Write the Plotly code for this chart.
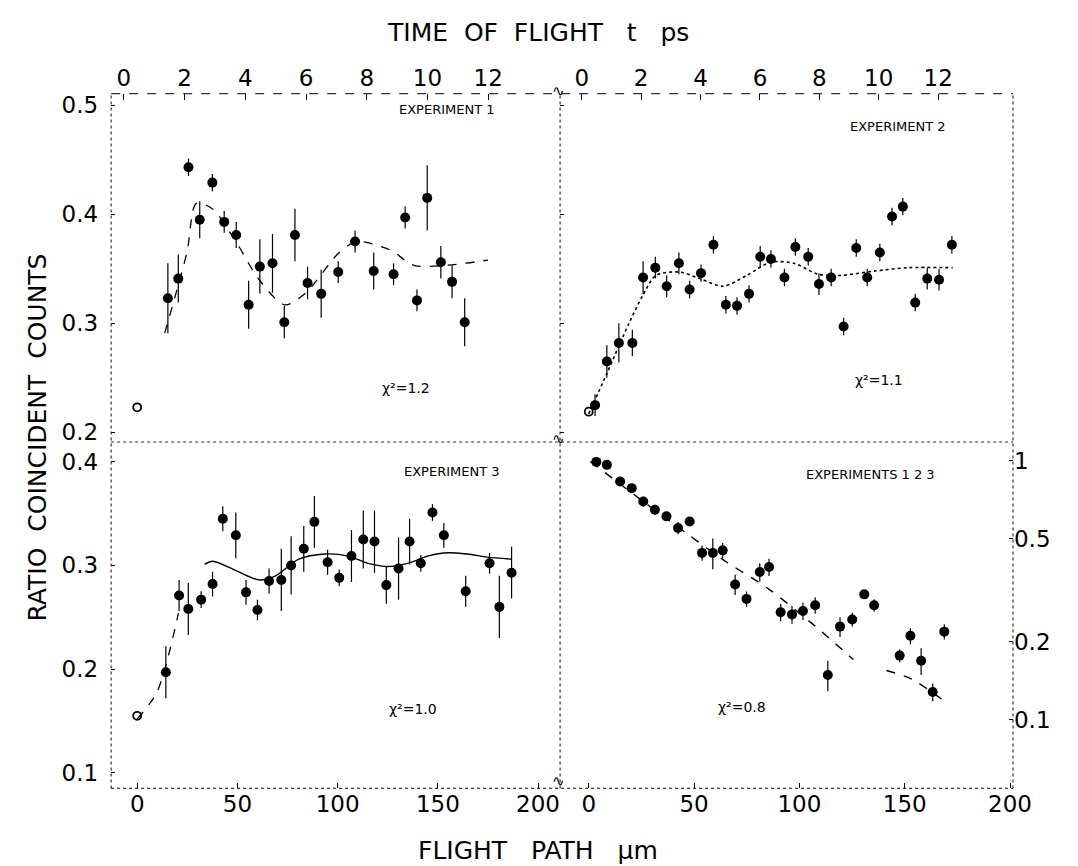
import plotly.graph_objects as go

# ---------------- data ----------------
# Experiment 1 (top-left): flight path [um] vs ratio
exp1_path = [15.3, 20.5, 25.6, 31.2, 37.5, 43.4, 49.4, 55.6, 61.2, 67.5, 73.4, 78.7, 85.0, 91.8,
             100.3, 108.7, 118.0, 127.9, 133.7, 139.6, 144.7, 151.5, 157.1, 163.4]
exp1_ratio = [0.323, 0.341, 0.443, 0.395, 0.429, 0.393, 0.381, 0.317, 0.352, 0.355, 0.301, 0.381,
              0.337, 0.327, 0.347, 0.375, 0.348, 0.345, 0.397, 0.321, 0.415, 0.356, 0.338, 0.301]
exp1_err = [0.032, 0.022, 0.008, 0.017, 0.008, 0.010, 0.012, 0.022, 0.025, 0.027, 0.015, 0.024,
            0.015, 0.022, 0.010, 0.010, 0.017, 0.010, 0.010, 0.010, 0.030, 0.015, 0.015, 0.022]
exp1_open_path = [0]
exp1_open_ratio = [0.223]
exp1_fit_path = [13.7, 24.8, 29.5, 37.5, 50.2, 60.4, 73.6, 84.2, 100.3, 109.6, 126.5, 138.4, 175]
exp1_fit_ratio = [0.291, 0.365, 0.410, 0.405, 0.372, 0.341, 0.317, 0.328, 0.364, 0.375, 0.367, 0.353, 0.358]

# Experiment 2 (top-right)
exp2_path = [3.0, 8.6, 14.3, 20.7, 25.8, 31.6, 37.0, 42.8, 47.9, 53.3, 59.2, 65.1, 70.4, 76.1, 81.4,
             86.5, 92.9, 98.1, 104.2, 109.3, 115.1, 121.0, 127.0, 132.2, 138.2, 144.0, 149.1, 155.0,
             160.7, 166.3, 172.4]
exp2_ratio = [0.225, 0.265, 0.282, 0.282, 0.342, 0.351, 0.334, 0.355, 0.331, 0.346, 0.372, 0.317,
              0.316, 0.327, 0.361, 0.359, 0.342, 0.370, 0.361, 0.336, 0.342, 0.297, 0.369, 0.342,
              0.365, 0.398, 0.407, 0.319, 0.341, 0.340, 0.372]
exp2_err = [0.010, 0.015, 0.018, 0.012, 0.015, 0.010, 0.010, 0.010, 0.008, 0.008, 0.008, 0.008,
            0.008, 0.008, 0.010, 0.008, 0.008, 0.008, 0.008, 0.010, 0.008, 0.008, 0.008, 0.008,
            0.008, 0.008, 0.008, 0.008, 0.010, 0.010, 0.008]
exp2_open_path = [0]
exp2_open_ratio = [0.219]
exp2_fit_path = [0, 8.6, 19.1, 25.5, 31.9, 43.1, 52.7, 63.9, 75.1, 86.3, 97.5, 108.8, 120, 136, 152, 172.8]
exp2_fit_ratio = [0.217, 0.254, 0.300, 0.325, 0.344, 0.347, 0.341, 0.334, 0.344, 0.356, 0.355,
                  0.345, 0.344, 0.348, 0.351, 0.351]

# Experiment 3 (bottom-left)
exp3_path = [14.3, 20.9, 25.5, 31.9, 37.6, 42.7, 49.2, 54.3, 60.0, 65.8, 71.9, 76.8, 83.1, 88.4,
             95.0, 100.8, 106.9, 112.8, 118.4, 124.3, 130.4, 135.9, 141.5, 147.3, 153.0, 163.9,
             175.8, 180.7, 186.8]
exp3_ratio = [0.197, 0.271, 0.258, 0.267, 0.282, 0.345, 0.329, 0.274, 0.257, 0.285, 0.286, 0.300,
              0.316, 0.342, 0.303, 0.288, 0.309, 0.325, 0.323, 0.281, 0.297, 0.323, 0.302, 0.351,
              0.329, 0.275, 0.302, 0.260, 0.293]
exp3_err = [0.025, 0.015, 0.025, 0.008, 0.012, 0.012, 0.022, 0.012, 0.010, 0.012, 0.030, 0.028,
            0.022, 0.025, 0.012, 0.008, 0.025, 0.028, 0.030, 0.018, 0.030, 0.022, 0.008, 0.008,
            0.012, 0.015, 0.010, 0.030, 0.025]
exp3_open_path = [0]
exp3_open_ratio = [0.155]
exp3_rise_path = [0, 9.9, 20.6]
exp3_rise_ratio = [0.152, 0.178, 0.254]
exp3_fit_path = [33.6, 37.7, 49.3, 60.8, 69.1, 80.6, 93.7, 105.3, 115.2, 125.1, 134.9, 144.8, 153,
                 164.6, 174.5, 186.9]
exp3_fit_ratio = [0.301, 0.304, 0.295, 0.286, 0.290, 0.306, 0.311, 0.309, 0.302, 0.299, 0.302,
                  0.309, 0.312, 0.311, 0.308, 0.306]

# Experiments 1,2,3 combined (bottom-right, log scale)
all_path = [3.6, 8.6, 14.9, 20.4, 25.9, 31.4, 36.9, 42.4, 47.9, 53.8, 58.9, 63.6, 69.5, 74.9, 81.2,
            85.6, 91.1, 96.5, 101.7, 107.5, 113.5, 119.3, 125.1, 130.8, 135.5, 147.6, 152.7, 157.8,
            163.3, 168.8]
all_ratio = [0.99, 0.964, 0.832, 0.784, 0.696, 0.647, 0.610, 0.550, 0.583, 0.441, 0.441, 0.451,
             0.333, 0.293, 0.372, 0.389, 0.260, 0.255, 0.263, 0.277, 0.149, 0.229, 0.244, 0.305,
             0.277, 0.177, 0.211, 0.169, 0.128, 0.219]
all_err = [0.02, 0.03, 0.02, 0.02, 0.03, 0.03, 0.02, 0.03, 0.02, 0.03, 0.06, 0.03, 0.03, 0.02, 0.03,
           0.03, 0.02, 0.02, 0.02, 0.02, 0.02, 0.02, 0.015, 0.01, 0.015, 0.01, 0.015, 0.02, 0.01, 0.015]
all_fit_path = [0.8, 25.9, 46.3, 63.6, 85.6, 107.5, 125.6, None, 141.3, 153.1, 169.5]
all_fit_ratio = [0.993, 0.696, 0.526, 0.416, 0.319, 0.230, 0.171, None, 0.155, 0.144, 0.117]

ps_ticks = [0, 2, 4, 6, 8, 10, 12]
um_ticks = [0, 50, 100, 150, 200]
lin_top_ticks = [0.2, 0.3, 0.4, 0.5]
lin_bot_ticks = [0.1, 0.2, 0.3, 0.4]
log_ticks = [0.1, 0.2, 0.5, 1]
log_ticktext = ["0.1", "0.2", "0.5", "1"]

chi_labels = ["\u03c7\u00b2=1.2", "\u03c7\u00b2=1.1", "\u03c7\u00b2=1.0", "\u03c7\u00b2=0.8"]
exp_labels = ["EXPERIMENT 1", "EXPERIMENT 2", "EXPERIMENT 3", "EXPERIMENTS 1 2 3"]

# ---------------- figure ----------------
W, H = 1078, 866
FONT = "DejaVu Sans"
INK = "black"


def px(x):
    return x / W


def py(y):
    return 1 - y / H


XL = [px(105), px(562)]
XR = [px(562), px(1023)]
YT = [py(435), py(85)]
YB = [py(783), py(435)]

fig = go.Figure()


def data_trace(x, y, err, xa, ya):
    return go.Scatter(
        x=x, y=y, mode="markers", xaxis=xa, yaxis=ya, showlegend=False,
        marker=dict(color=INK, size=10, symbol="circle"),
        error_y=dict(type="data", array=err, visible=True, color=INK, thickness=1.2, width=0),
    )


def open_trace(x, y, xa, ya):
    return go.Scatter(
        x=x, y=y, mode="markers", xaxis=xa, yaxis=ya, showlegend=False,
        marker=dict(color=INK, size=8, symbol="circle-open", line=dict(color=INK, width=1.8)),
    )


def fit_trace(x, y, xa, ya, dash="dash", width=1.3):
    return go.Scatter(
        x=x, y=y, mode="lines", xaxis=xa, yaxis=ya, showlegend=False, connectgaps=False,
        line=dict(color=INK, width=width, dash=dash, shape="spline", smoothing=0.8),
    )


# top-left: experiment 1 (x3, y)
fig.add_trace(fit_trace(exp1_fit_path, exp1_fit_ratio, "x3", "y"))
fig.add_trace(data_trace(exp1_path, exp1_ratio, exp1_err, "x3", "y"))
fig.add_trace(open_trace(exp1_open_path, exp1_open_ratio, "x3", "y"))
# top-right: experiment 2 (x4, y2)
fig.add_trace(fit_trace(exp2_fit_path, exp2_fit_ratio, "x4", "y2", dash="dot", width=1.6))
fig.add_trace(data_trace(exp2_path, exp2_ratio, exp2_err, "x4", "y2"))
fig.add_trace(open_trace(exp2_open_path, exp2_open_ratio, "x4", "y2"))
# bottom-left: experiment 3 (x, y3)
fig.add_trace(fit_trace(exp3_rise_path, exp3_rise_ratio, "x", "y3", dash="dash"))
fig.add_trace(fit_trace(exp3_fit_path, exp3_fit_ratio, "x", "y3", dash="solid", width=1.4))
fig.add_trace(data_trace(exp3_path, exp3_ratio, exp3_err, "x", "y3"))
fig.add_trace(open_trace(exp3_open_path, exp3_open_ratio, "x", "y3"))
# bottom-right: experiments 1 2 3 (x2, y4)
fig.add_trace(fit_trace(all_fit_path, all_fit_ratio, "x2", "y4", dash="dash", width=1.4))
fig.add_trace(data_trace(all_path, all_ratio, all_err, "x2", "y4"))
# placeholders so the time-of-flight axes are drawn
fig.add_trace(go.Scatter(x=[None], y=[None], xaxis="x5", yaxis="y", showlegend=False, hoverinfo="skip"))
fig.add_trace(go.Scatter(x=[None], y=[None], xaxis="x6", yaxis="y2", showlegend=False, hoverinfo="skip"))

tickfont = dict(family=FONT, size=23, color=INK)
common = dict(showgrid=False, zeroline=False, showline=False, color=INK)

fig.update_layout(
    width=W, height=H,
    margin=dict(l=0, r=0, t=0, b=0),
    paper_bgcolor="white", plot_bgcolor="white",
    font=dict(family=FONT, color=INK),
    # flight path axes
    xaxis=dict(domain=XL, range=[-13, 211], anchor="y3", tickvals=um_ticks, ticks="inside",
               ticklen=5, tickcolor=INK, tickfont=tickfont, **common),
    xaxis2=dict(domain=XR, range=[-13.6, 201.4], anchor="y4", tickvals=um_ticks, ticks="inside",
                ticklen=5, tickcolor=INK, tickfont=tickfont, **common),
    xaxis3=dict(domain=XL, matches="x", anchor="y", showticklabels=False, ticks="", **common),
    xaxis4=dict(domain=XR, matches="x2", anchor="y2", showticklabels=False, ticks="", **common),
    # time of flight axes (top)
    xaxis5=dict(domain=XL, overlaying="x3", side="top", anchor="y", range=[-0.42, 14.37],
                tickvals=ps_ticks, ticks="inside", ticklen=6, tickcolor=INK, tickfont=tickfont,
                ticklabelstandoff=2, **common),
    xaxis6=dict(domain=XR, overlaying="x4", side="top", anchor="y2", range=[-0.73, 14.52],
                tickvals=ps_ticks, ticks="inside", ticklen=6, tickcolor=INK, tickfont=tickfont,
                ticklabelstandoff=2, **common),
    # ratio axes
    yaxis=dict(domain=YT, range=[0.1912, 0.5106], anchor="x3", tickvals=lin_top_ticks,
               ticktext=["0.2", "0.3", "0.4", "0.5"], ticks="inside", ticklen=4, tickcolor=INK,
               tickfont=tickfont, ticklabelstandoff=12, **common),
    yaxis2=dict(domain=YT, matches="y", anchor="x4", tickvals=lin_top_ticks, showticklabels=False,
                ticks="inside", ticklen=4, tickcolor=INK, **common),
    yaxis3=dict(domain=YB, range=[0.085, 0.419], anchor="x", tickvals=lin_bot_ticks,
                ticktext=["0.1", "0.2", "0.3", "0.4"], ticks="inside", ticklen=4, tickcolor=INK,
                tickfont=tickfont, ticklabelstandoff=12, **common),
    yaxis4=dict(domain=YB, type="log", range=[-1.2645, 0.0724], anchor="x2", side="right",
                tickvals=log_ticks, ticktext=log_ticktext, ticks="inside", ticklen=4, tickcolor=INK,
                tickfont=tickfont, **common),
)

# frame lines (broken, as in the scanned original)
frame = [
    (XL[0], YT[1], XR[1], YT[1], "dash"),   # top
    (XL[0], YT[0], XR[1], YT[0], "dot"),    # middle separator
    (XL[0], YB[0], XR[1], YB[0], "dot"),    # bottom
    (XL[0], YB[0], XL[0], YT[1], "dot"),    # left
    (XL[1], YB[0], XL[1], YT[1], "dot"),    # centre
    (XR[1], YB[0], XR[1], YT[1], "dot"),    # right
]
for x0, y0, x1, y1, d in frame:
    fig.add_shape(type="line", xref="paper", yref="paper", x0=x0, y0=y0, x1=x1, y1=y1,
                  line=dict(color="#333", width=1.2, dash=d))

ann = []
ann.append(dict(text="TIME  OF  FLIGHT   t   ps", x=px(540), y=py(24), font=dict(size=25)))
ann.append(dict(text="RATIO  COINCIDENT  COUNTS", x=px(30), y=py(430), textangle=-90,
                font=dict(size=25)))
ann.append(dict(text="FLIGHT   PATH   \u03bcm", x=px(540), y=py(845), font=dict(size=25)))
ann.append(dict(text=exp_labels[0], x=px(447), y=py(101), font=dict(size=13)))
ann.append(dict(text=exp_labels[1], x=px(906), y=py(118), font=dict(size=13)))
ann.append(dict(text=exp_labels[2], x=px(452), y=py(465), font=dict(size=13)))
ann.append(dict(text=exp_labels[3], x=px(878), y=py(468), font=dict(size=13)))
ann.append(dict(text=chi_labels[0], x=px(405), y=py(381), font=dict(size=14)))
ann.append(dict(text=chi_labels[1], x=px(887), y=py(373), font=dict(size=14)))
ann.append(dict(text=chi_labels[2], x=px(412), y=py(703), font=dict(size=14)))
ann.append(dict(text=chi_labels[3], x=px(747), y=py(701), font=dict(size=14)))
for yb in (82, 432, 776):
    ann.append(dict(text="\u223f", x=px(560), y=py(yb), font=dict(size=15)))

for a in ann:
    a.update(xref="paper", yref="paper", showarrow=False, xanchor="center", yanchor="middle")
    a["font"].update(family=FONT, color=INK)
    fig.add_annotation(**a)

fig.write_html("out.html")
